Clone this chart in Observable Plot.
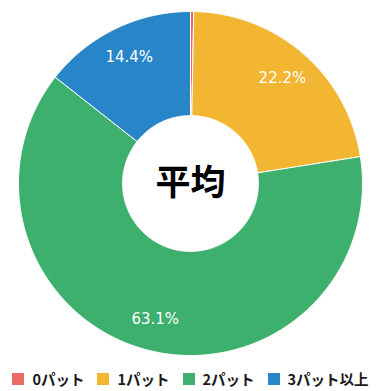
<!DOCTYPE html>
<html><head><meta charset="utf-8">
<script src="https://cdn.jsdelivr.net/npm/d3@7"></script>
<script src="https://cdn.jsdelivr.net/npm/@observablehq/plot@0.6"></script>
<style>
body{margin:0;background:#fff;font-family:"Noto Sans CJK JP","Noto Sans",sans-serif;}
#legend{display:flex;justify-content:center;gap:13px;font-size:14.5px;line-height:20px;font-weight:bold;color:#1a1a1a;margin-top:9px;}
#legend span.i{display:flex;align-items:center;}
#legend span.s{width:12px;height:12px;display:inline-block;margin-right:8px;}
</style>
</head><body>
<div id="chart"></div>
<script>
const categories = ["0パット", "1パット", "2パット", "3パット以上"];
const values = [0.3, 22.2, 63.1, 14.4];
const labels = ["", "22.2%", "63.1%", "14.4%"];
const colors = ["#ea6b66", "#f2b632", "#3db06e", "#2886c8"];
const centerLabel = "平均";

const inner = 0.395, outer = 1, labelR = 0.814;
const pie = d3.pie().sort(null).value(d => d)(values);
const polys = [];
const labelPts = [];
pie.forEach((p, i) => {
  const a0 = p.startAngle, a1 = p.endAngle;
  const n = Math.max(2, Math.ceil((a1 - a0) / 0.01));
  const pts = [];
  for (let k = 0; k <= n; k++) { const a = a0 + (a1 - a0) * k / n; pts.push([outer * Math.sin(a), outer * Math.cos(a)]); }
  for (let k = n; k >= 0; k--) { const a = a0 + (a1 - a0) * k / n; pts.push([inner * Math.sin(a), inner * Math.cos(a)]); }
  pts.push(pts[0]);
  pts.forEach(([x, y]) => polys.push({key: categories[i], x, y}));
  const m = (a0 + a1) / 2;
  labelPts.push({key: categories[i], label: labels[i], x: labelR * Math.sin(m), y: labelR * Math.cos(m)});
});

const plot = Plot.plot({
  width: 381, height: 360,
  margin: 0,
  x: {domain: [-190/172, 191/172], axis: null},
  y: {domain: [-177/172, 183/172], axis: null},
  color: {domain: categories, range: colors},
  marks: [
    Plot.line(polys, {x: "x", y: "y", z: "key", fill: "key", stroke: "white", strokeWidth: 1, curve: "linear"}),
    Plot.text(labelPts, {x: "x", y: "y", text: "label", fill: "white", fontSize: 15, fontFamily: "DejaVu Sans, sans-serif"}),
    Plot.text([centerLabel], {x: 0, y: 0, text: d => d, fontSize: 35, fontWeight: "bold", fill: "#000", fontFamily: "Noto Sans CJK JP"})
  ]
});
document.getElementById("chart").appendChild(plot);

const leg = document.createElement("div");
leg.id = "legend";
categories.forEach((c, i) => {
  const it = document.createElement("span"); it.className = "i";
  const sw = document.createElement("span"); sw.className = "s"; sw.style.background = colors[i];
  it.appendChild(sw); it.appendChild(document.createTextNode(c));
  leg.appendChild(it);
});
document.body.appendChild(leg);
</script>
</body></html>
